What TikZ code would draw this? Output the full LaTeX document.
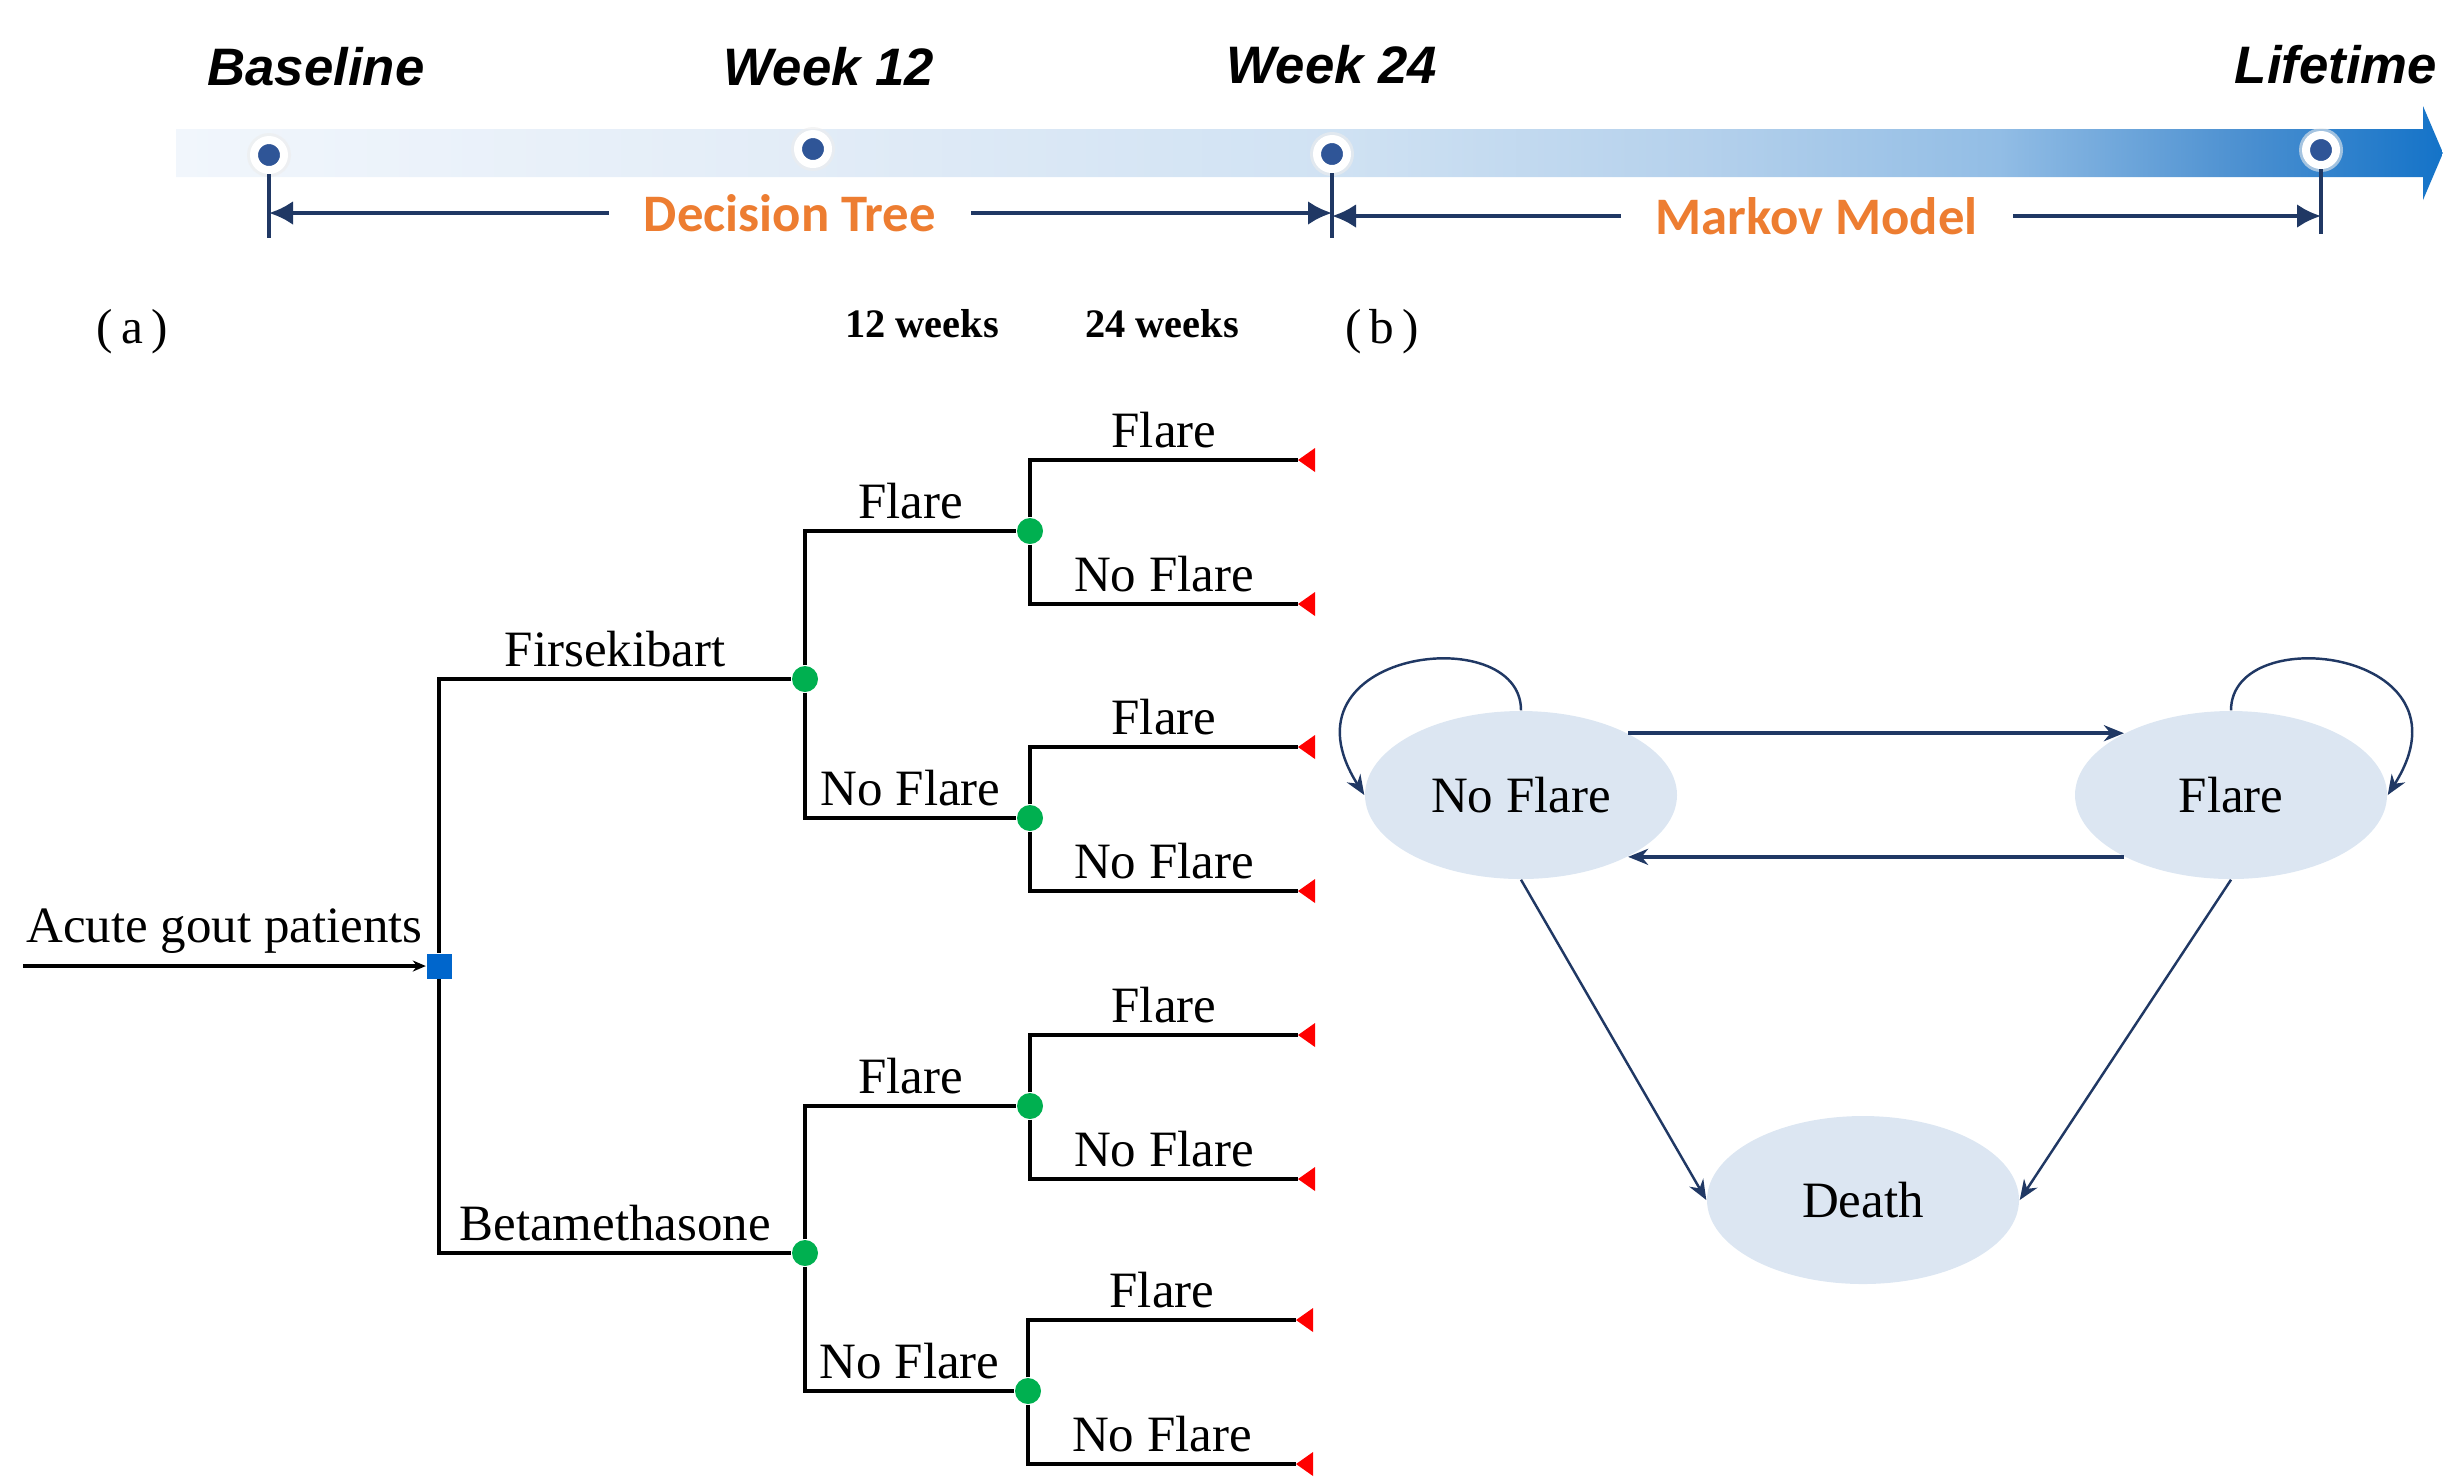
\documentclass[tikz,border=0pt]{standalone}
\usepackage{fontspec}
\setmainfont{Liberation Serif}
\newfontfamily\axisfont{Liberation Sans}
\newfontfamily\phasefont{Carlito}
\usetikzlibrary{arrows.meta,shapes.geometric,calc}

\definecolor{navy}{HTML}{203864}
\definecolor{dotblue}{HTML}{2F5597}
\definecolor{phaseorange}{HTML}{ED7D31}
\definecolor{statefill}{HTML}{DCE6F2}
\definecolor{decblue}{HTML}{0066CC}
\definecolor{chancegreen}{HTML}{00B050}
\definecolor{tb0}{HTML}{F1F6FC}
\definecolor{tb1}{HTML}{E2ECF7}
\definecolor{tb2}{HTML}{D0E2F3}
\definecolor{tb3}{HTML}{B5D1EC}
\definecolor{tb4}{HTML}{92BDE5}
\definecolor{tb5}{HTML}{4A8FD0}
\definecolor{tb6}{HTML}{1473C8}

\pgfdeclarehorizontalshading{timebar}{100bp}{color(0bp)=(tb0); color(25bp)=(tb0); color(39bp)=(tb1); color(50.5bp)=(tb2); color(58.6bp)=(tb3); color(65.2bp)=(tb4); color(70.7bp)=(tb5); color(75bp)=(tb6); color(100bp)=(tb6)}

\tikzset{
  tdot/.style={circle, fill=dotblue, draw=white, line width=0.8mm, minimum size=3mm, inner sep=0pt},
  halo/.style={circle, fill=black!7, minimum size=4.4mm, inner sep=0pt},
  tlabel/.style={font=\axisfont\fontsize{15}{18}\selectfont\bfseries\itshape},
  dimline/.style={navy, line width=1.2pt, >={Latex[length=2.4mm,width=2.4mm]}},
  dimtext/.style={fill=white, text=phaseorange, inner xsep=3.5mm, inner ysep=1pt, font=\phasefont\fontsize{15}{18}\selectfont\bfseries},
  tline/.style={black, line width=0.9pt},
  lbl/.style={above, inner sep=3pt, font=\fontsize{14.5}{17}\selectfont},
  decision/.style={rectangle, fill=decblue, minimum size=2.5mm, inner sep=0pt},
  chance/.style={circle, fill=chancegreen, minimum size=2.6mm, inner sep=0pt},
  state/.style={ellipse, fill=statefill, minimum width=3.12cm, minimum height=1.68cm, inner sep=0pt, font=\fontsize{14.5}{17}\selectfont},
  marr/.style={navy, line width=0.7pt, -{Stealth[length=2mm, width=1.6mm]}},
}

\begin{document}
\begin{tikzpicture}[x=0.1mm, y=-0.1mm]
  \useasboundingbox (0,0) rectangle (2443,1478);

  % timeline
  \shade[shading=timebar] (176,129) -- (2423,129) -- (2423,106) -- (2443,153) -- (2423,200) -- (2423,177) -- (176,177) -- cycle;
  \foreach \x/\y in {269/155, 813/149, 1332/154, 2321/150}
    \node[halo, opacity=0.6] at (\x,\y) {};
  \node[tdot] (t0) at (269,155) {};
  \node[tdot] (t1) at (813,149) {};
  \node[tdot] (t2) at (1332,154) {};
  \node[tdot] (t3) at (2321,150) {};
  \node[tlabel] (base) at (316,67) {Baseline};
  \node[tlabel] (w12) at (829,67) {Week 12};
  \node[tlabel] (w24) at (1332,65) {Week 24};
  \node[tlabel] (life) at (2336,65) {Lifetime};
  \draw[dimline] (t0.south) -- (t0 |- 0,238);
  \draw[dimline] (t2.south) -- (t2 |- 0,238);
  \draw[dimline] (t3.south) -- (t3 |- 0,234);
  \draw[dimline, <->] (t0 |- 0,213) -- node[dimtext, pos=0.49] {Decision Tree} (t2 |- 0,213);
  \draw[dimline, <->] (t2 |- 0,216) -- node[dimtext, pos=0.49] {Markov Model} (t3 |- 0,216);

  \node[font=\fontsize{14}{17}\selectfont] (pa) at (132,332) {(\,a\,)};
  \node[font=\fontsize{14}{17}\selectfont] (pb) at (1382,332) {(\,b\,)};
  \node[font=\bfseries\fontsize{11.5}{14}\selectfont] (wk12) at (922,324) {12 weeks};
  \node[font=\bfseries\fontsize{11.5}{14}\selectfont] (wk24) at (1162,324) {24 weeks};

  % decision tree
  \coordinate (src) at (23,966);
  \node[decision] (root) at (439,966) {};
  \node[chance] (fir) at (805,679) {};
  \node[chance] (bet) at (805,1253) {};
  \draw[tline, -{Stealth[length=1.3mm, width=1.1mm]}] (src) -- node[lbl] {Acute gout patients} (root);
  \draw[tline] (root) |- node[lbl, pos=0.75] {Firsekibart} (fir);
  \draw[tline] (root) |- node[lbl, pos=0.75] {Betamethasone} (bet);

  \node[chance] (ff) at (1030,531) {};
  \node[chance] (fn) at (1030,818) {};
  \node[chance] (bf) at (1030,1106) {};
  \node[chance] (bn) at (1028,1391) {};
  \draw[tline] (fir) |- node[lbl, pos=0.75] {Flare} (ff);
  \draw[tline] (fir) |- node[lbl, pos=0.75] {No Flare} (fn);
  \draw[tline] (bet) |- node[lbl, pos=0.75] {Flare} (bf);
  \draw[tline] (bet) |- node[lbl, pos=0.75] {No Flare} (bn);
  \foreach \c in {ff,fn,bf,bn} {
    \coordinate (\c-f) at ($(\c)+(268,-71)$);
    \coordinate (\c-n) at ($(\c)+(268,73)$);
    \draw[tline] (\c) |- node[lbl, pos=0.75] {Flare} (\c-f);
    \draw[tline] (\c) |- node[lbl, pos=0.75] {No Flare} (\c-n);
    \fill[red] (\c-f) -- ++(17,-12) -- ++(0,24) -- cycle;
    \fill[red] (\c-n) -- ++(17,-12) -- ++(0,24) -- cycle;
  }

  % markov model
  \node[state] (nf) at (1521,795) {No Flare};
  \node[state] (fl) at (2231,795) {Flare};
  \node[state] (dth) at (1863,1200) {Death};
  \draw[marr, line width=1.1pt] (nf.30) -- (fl.150);
  \draw[marr, line width=1.1pt] (fl.210) -- (nf.330);
  \draw[marr] (nf.north) .. controls +(0,-91) and +(-92,-145) .. (nf.west);
  \draw[marr] (fl.north) .. controls +(0,-91) and +(92,-145) .. (fl.east);
  \draw[marr] (nf.south) -- (dth.west);
  \draw[marr] (fl.south) -- (dth.east);
\end{tikzpicture}
\end{document}
